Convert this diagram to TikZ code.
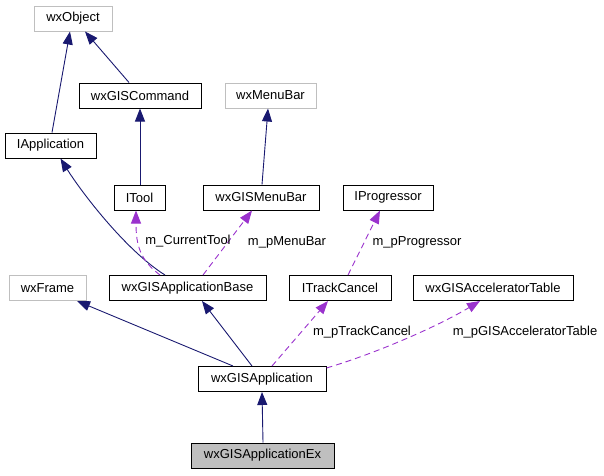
\documentclass[tikz,border=0pt]{standalone}
\usepackage{fontspec}
\setmainfont{Liberation Sans}
\usetikzlibrary{arrows.meta}
\definecolor{edgeblue}{HTML}{191970}
\definecolor{edgepurple}{HTML}{9A32CD}
\definecolor{boxgray}{HTML}{BFBFBF}
\begin{document}
\begin{tikzpicture}[x=1pt,y=-1pt,
  cls/.style={draw=black, line width=1pt, fill=white, minimum height=25pt, inner sep=0pt, font=\fontsize{13}{15}\selectfont},
  ext/.style={cls, draw=boxgray},
  cur/.style={cls, fill=boxgray},
  inh/.style={draw=edgeblue, line width=0.9pt, -{Triangle[length=13pt,width=10pt]}},
  use/.style={draw=edgepurple, line width=0.9pt, dash pattern=on 6pt off 4pt, -{Triangle[length=13pt,width=10pt]}},
  lbl/.style={font=\fontsize{13}{15}\selectfont, inner sep=0pt}]
\useasboundingbox (0,0) rectangle (604,475);

% nodes
\node[ext, minimum width=78pt]  (wxObject)  at (73,18.5)  {wxObject};
\node[cls, minimum width=122pt] (cmd)       at (140,95.5) {wxGISCommand};
\node[cls, minimum width=91pt]  (iapp)      at (50.5,145.5) {IApplication};
\node[ext, minimum width=91pt]  (menubar)   at (270.5,95.5) {wxMenuBar};
\node[cls, minimum width=51pt]  (itool)     at (139.5,197.5) {ITool};
\node[cls, minimum width=116pt] (gmenubar)  at (261,197.5) {wxGISMenuBar};
\node[cls, minimum width=90pt]  (iprog)     at (388,197.5) {IProgressor};
\node[ext, minimum width=77pt]  (frame)     at (47.5,288) {wxFrame};
\node[cls, minimum width=157pt] (appbase)   at (187.5,288) {wxGISApplicationBase};
\node[cls, minimum width=102pt] (itrack)    at (340,288) {ITrackCancel};
\node[cls, minimum width=160pt] (acctable)  at (493,288) {wxGISAcceleratorTable};
\node[cls, minimum width=128pt] (app)       at (262,379) {wxGISApplication};
\node[cur, minimum width=143pt] (appex)     at (262.5,455.5) {wxGISApplicationEx};

% inheritance
\draw[inh] ([xshift=1.5pt]iapp.north) -- ([xshift=-3pt]wxObject.south);
\draw[inh] ([xshift=-11pt]cmd.north) -- ([xshift=12pt]wxObject.south);
\draw[inh] ([xshift=0.5pt]itool.north) -- (cmd.south);
\draw[inh] ([xshift=1pt]gmenubar.north) -- ([xshift=-2.5pt]menubar.south);
\draw[inh] ([xshift=-22.5pt]appbase.north) .. controls (125,250) and (80,190) .. ([xshift=10pt]iapp.south);
\draw[inh] ([xshift=-29pt]app.north) -- ([xshift=29.5pt]frame.south);
\draw[inh] ([xshift=-10pt]app.north) -- ([xshift=14.5pt]appbase.south);
\draw[inh] ([xshift=0.5pt]appex.north) -- (app.south);

% usage
\draw[use] ([xshift=-27.5pt]appbase.north) .. controls (140,260) and (136,245) .. ([xshift=-3.5pt]itool.south);
\draw[use] ([xshift=15.5pt]appbase.north) -- ([xshift=-9pt]gmenubar.south);
\draw[use] ([xshift=8pt]itrack.north) -- ([xshift=-8pt]iprog.south);
\draw[use] ([xshift=10pt]app.north) -- ([xshift=-12pt]itrack.south);
\draw[use] ([yshift=-2pt]app.north east) .. controls (380,352) and (440,325) .. ([xshift=-13pt]acctable.south);

% labels
\node[lbl] (l1) at (188,241) {m\_CurrentTool};
\node[lbl] (l2) at (287,242) {m\_pMenuBar};
\node[lbl] (l3) at (417,242) {m\_pProgressor};
\node[lbl] (l4) at (362,332) {m\_pTrackCancel};
\node[lbl] (l5) at (525,332) {m\_pGISAcceleratorTable};
\end{tikzpicture}
\end{document}
